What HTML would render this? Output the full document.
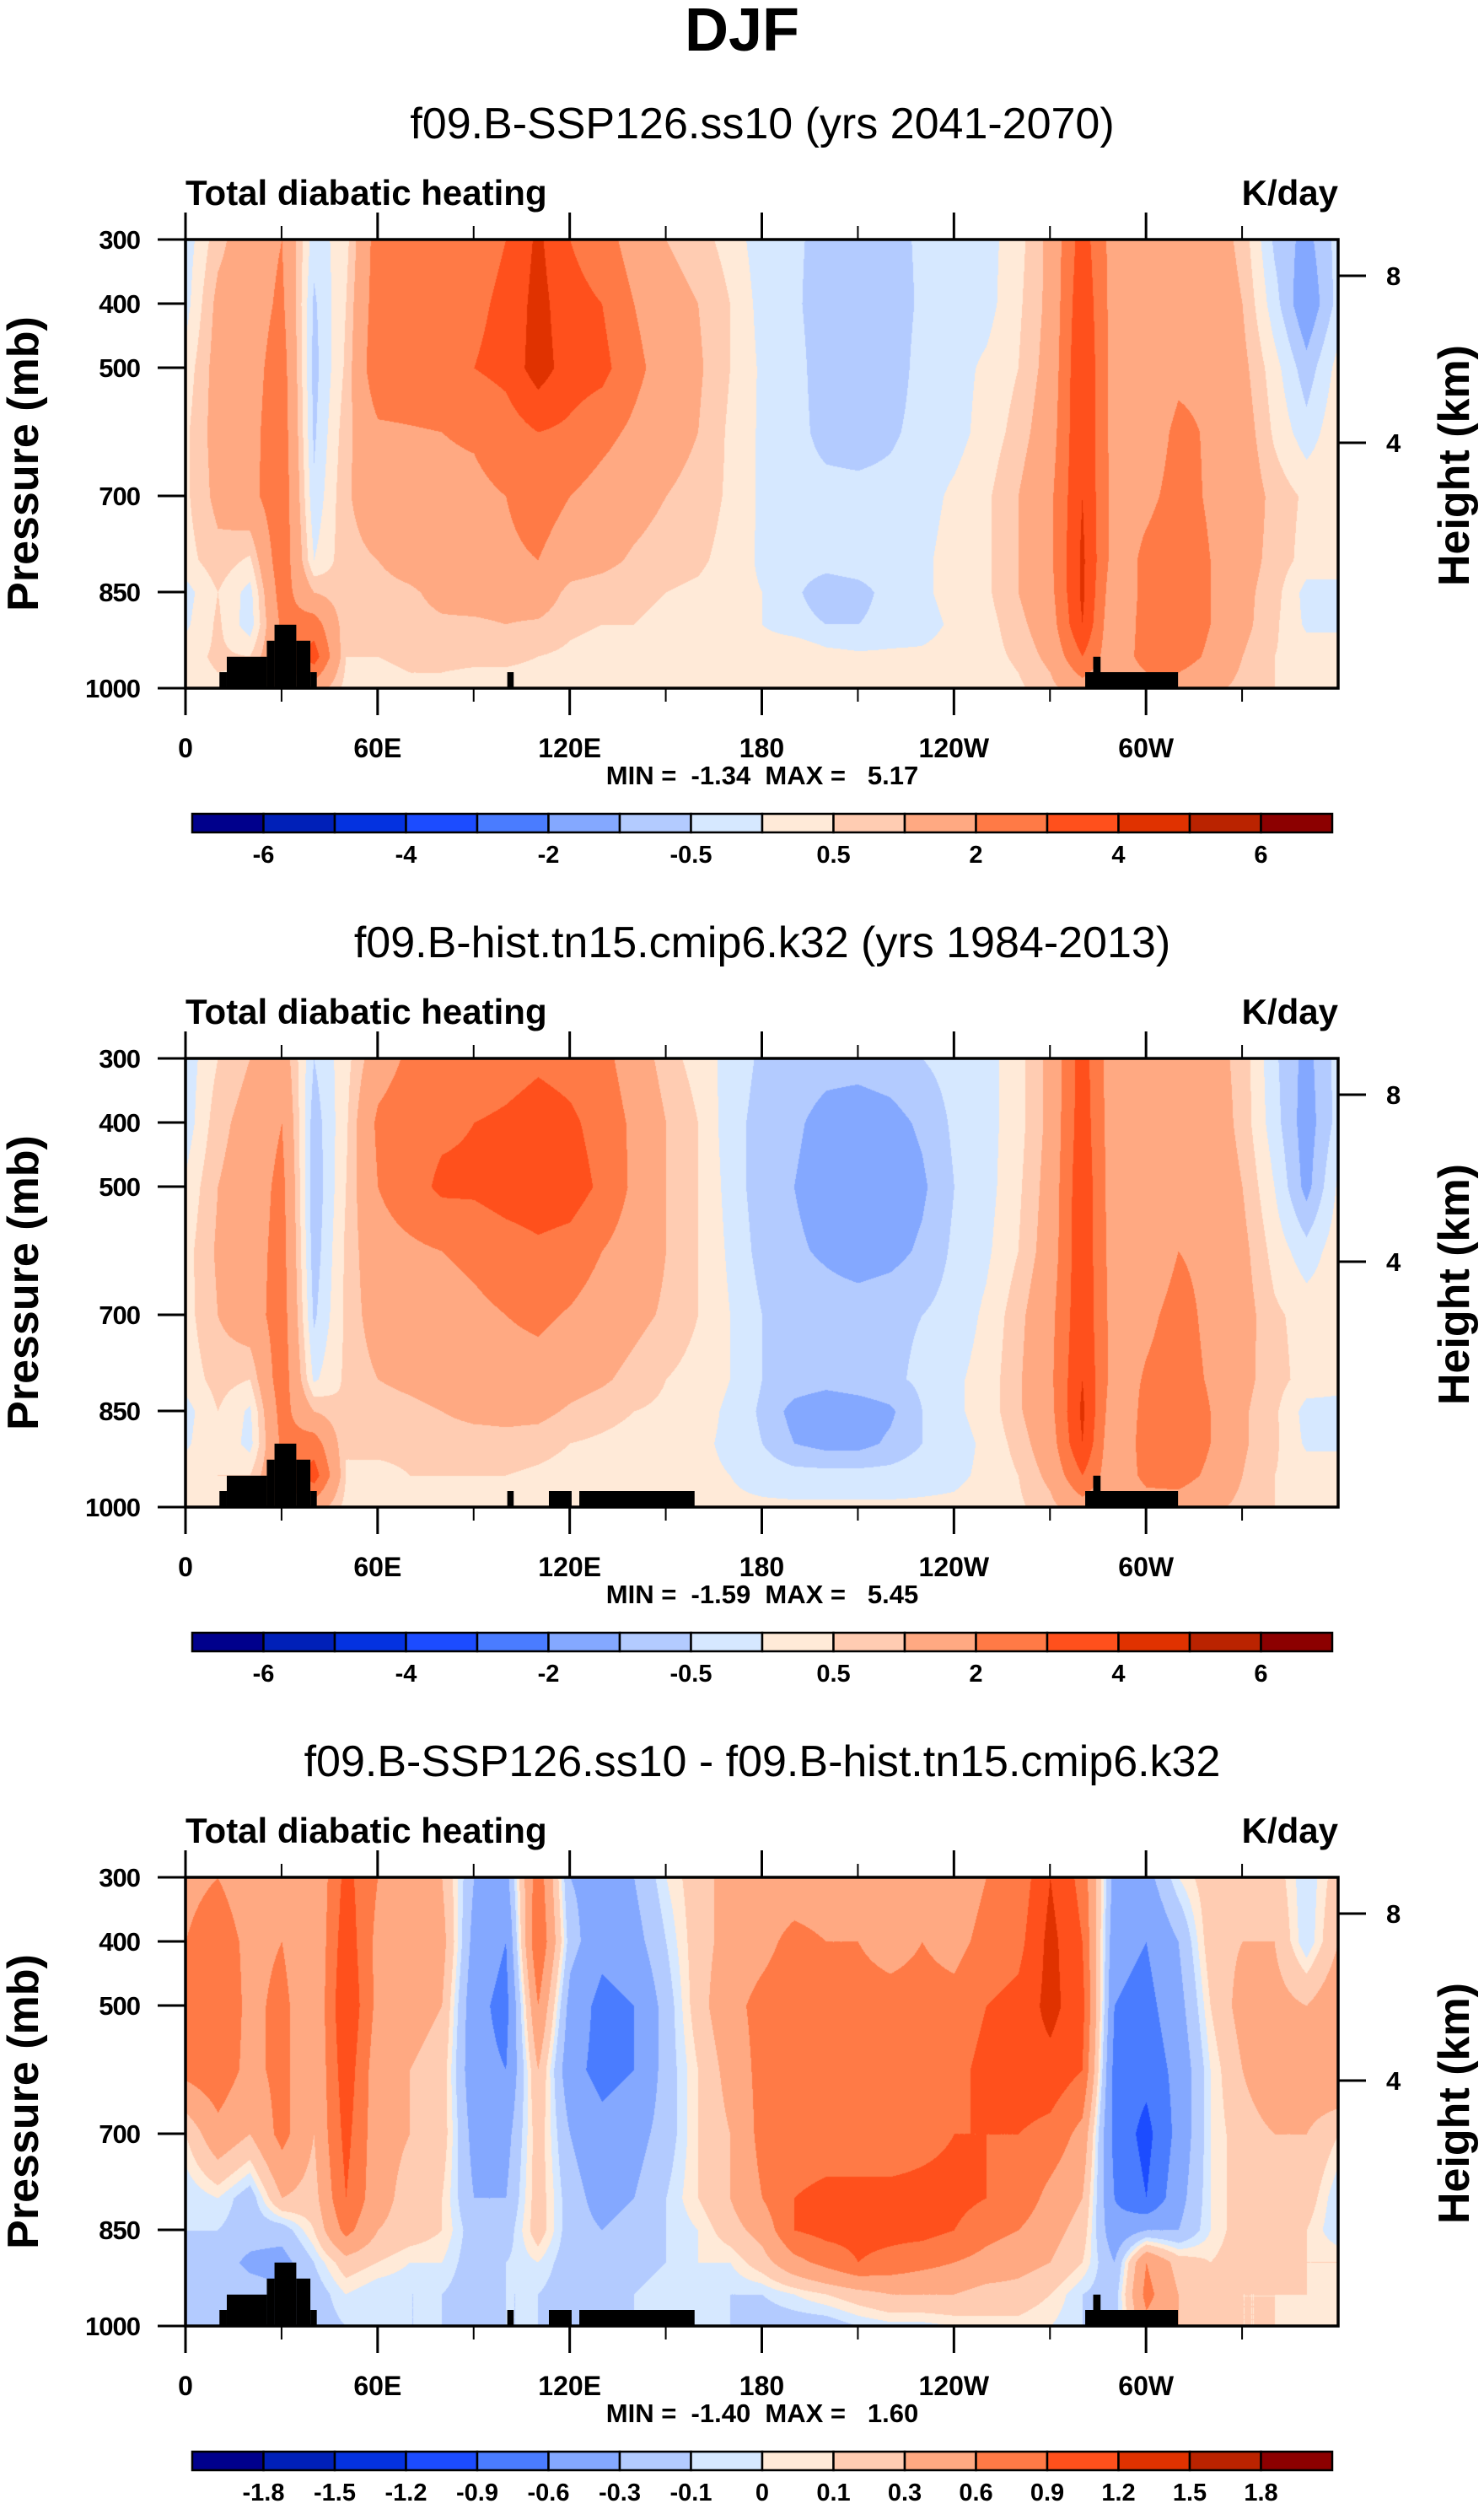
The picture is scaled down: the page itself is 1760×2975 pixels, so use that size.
<!DOCTYPE html>
<html><head><meta charset="utf-8">
<style>
body{margin:0;background:#fff}
#page{position:relative;width:1760px;height:2975px;background:#fff;overflow:hidden;font-family:"Liberation Sans",sans-serif;color:#000}
.t{position:absolute;white-space:nowrap;line-height:1}
.c{transform:translateX(-50%)}
canvas{position:absolute}
svg{position:absolute;left:0;top:0}
</style></head><body>
<div id="page">
<div class="t c" style="left:880px;top:0px;font-size:72px;font-weight:bold">DJF</div>

<div class="t c" style="left:904px;top:121px;font-size:52px">f09.B-SSP126.ss10 (yrs 2041-2070)</div>
<div class="t c" style="left:904px;top:1092px;font-size:52px">f09.B-hist.tn15.cmip6.k32 (yrs 1984-2013)</div>
<div class="t c" style="left:904px;top:2063px;font-size:52px">f09.B-SSP126.ss10 - f09.B-hist.tn15.cmip6.k32</div>

<div class="t" style="left:220px;top:208px;font-size:42px;font-weight:bold">Total diabatic heating</div>
<div class="t" style="left:220px;top:1179px;font-size:42px;font-weight:bold">Total diabatic heating</div>
<div class="t" style="left:220px;top:2150px;font-size:42px;font-weight:bold">Total diabatic heating</div>
<div class="t" style="right:173px;top:208px;font-size:42px;font-weight:bold">K/day</div>
<div class="t" style="right:173px;top:1179px;font-size:42px;font-weight:bold">K/day</div>
<div class="t" style="right:173px;top:2150px;font-size:42px;font-weight:bold">K/day</div>

<div class="t c" style="left:904px;top:904px;font-size:31px;font-weight:bold;white-space:pre">MIN =  -1.34  MAX =   5.17</div>
<div class="t c" style="left:904px;top:1875px;font-size:31px;font-weight:bold;white-space:pre">MIN =  -1.59  MAX =   5.45</div>
<div class="t c" style="left:904px;top:2846px;font-size:31px;font-weight:bold;white-space:pre">MIN =  -1.40  MAX =   1.60</div>

<div class="t" style="left:28px;top:550px;font-size:52px;font-weight:bold;transform:translate(-50%,-50%) rotate(-90deg)">Pressure (mb)</div>
<div class="t" style="left:28px;top:1521px;font-size:52px;font-weight:bold;transform:translate(-50%,-50%) rotate(-90deg)">Pressure (mb)</div>
<div class="t" style="left:28px;top:2492px;font-size:52px;font-weight:bold;transform:translate(-50%,-50%) rotate(-90deg)">Pressure (mb)</div>
<div class="t" style="left:1725px;top:552px;font-size:52px;font-weight:bold;transform:translate(-50%,-50%) rotate(-90deg)">Height (km)</div>
<div class="t" style="left:1725px;top:1523px;font-size:52px;font-weight:bold;transform:translate(-50%,-50%) rotate(-90deg)">Height (km)</div>
<div class="t" style="left:1725px;top:2494px;font-size:52px;font-weight:bold;transform:translate(-50%,-50%) rotate(-90deg)">Height (km)</div>
</div>
<script>
const lonCols=[0,10,20,30,40,50,60,70,80,90,100,110,120,130,140,150,160,170,180,190,200,210,220,230,240,250,260,270,280,290,300,310,320,330,340,350,360];
const pLevels=[300,400,500,600,700,800,850,900,950,1000];
const xTickLons=[0,60,120,180,240,300];
const xTickLabels=["0","60E","120E","180","120W","60W"];
const minorLons=[30,90,150,210,270,330];
const pTicks=[300,400,500,700,850,1000];
const hTickLabels=["8","4"];
const bounds12=[-6,-5,-4,-3,-2,-1,-0.5,0,0.5,1,2,3,4,5,6];
const cbLabels12=["-6","","-4","","-2","","-0.5","","0.5","","2","","4","","6"];
const bounds3=[-1.8,-1.5,-1.2,-0.9,-0.6,-0.3,-0.1,0,0.1,0.3,0.6,0.9,1.2,1.5,1.8];
const cbLabels3=["-1.8","-1.5","-1.2","-0.9","-0.6","-0.3","-0.1","0","0.1","0.3","0.6","0.9","1.2","1.5","1.8"];
const colors=["#00008c","#0020b8","#0432e0","#1c4cff","#4a7cff","#84a8ff","#b3cbff","#d6e8ff","#ffead8","#ffccb2","#ffa982","#ff7a46","#ff501c","#e03200","#ba2300","#8c0000"];
const mask1=[[10.6,12.9,975],[12.9,25.4,951],[25.4,27.8,926],[27.8,34.6,901],[34.6,39,926],[39,41,975],[100.5,102.5,975],[281,310,975],[283.5,285.8,951]];
const mask23=[[10.6,12.9,975],[12.9,25.4,951],[25.4,27.8,926],[27.8,34.6,901],[34.6,39,926],[39,41,975],[100.5,102.5,975],[113.5,120.6,975],[123,159,975],[281,310,975],[283.5,285.8,951]];
const data1=[
[-0.3,0.8,1.5,2.0,-0.3,0.3,2.5,2.5,2.5,2.6,3.0,4.2,3.0,2.5,1.5,1.0,0.7,0.3,-0.3,-0.4,-0.7,-0.7,-0.7,-0.4,-0.3,-0.2,0.3,1.2,3.5,1.5,1.5,1.2,1.5,0.8,-0.6,-1.2,-0.3],
[-0.2,1.2,1.5,2.2,-0.6,0.5,2.6,2.6,2.7,2.8,3.2,4.4,3.3,3.0,2.0,1.3,1.0,0.5,-0.2,-0.4,-0.8,-0.8,-0.8,-0.4,-0.3,-0.2,0.4,1.2,3.8,1.5,1.0,1.5,1.6,1.0,-0.3,-1.5,-0.3],
[0.2,1.3,1.6,2.5,-0.7,0.6,2.8,2.8,2.9,3.0,3.3,4.5,3.5,3.3,2.3,1.5,1.1,0.5,-0.1,-0.3,-0.8,-0.9,-0.8,-0.3,-0.2,0.1,0.5,1.3,4.0,1.5,1.2,1.8,1.8,1.2,0.2,-0.8,0.2],
[0.4,1.3,1.7,2.6,-0.6,0.8,1.8,1.9,2.0,2.1,2.5,3.0,2.8,2.3,1.8,1.3,1.0,0.4,-0.1,-0.3,-0.7,-0.8,-0.6,-0.3,-0.2,0.2,0.7,1.5,4.0,1.5,1.5,2.2,1.9,1.4,0.4,-0.3,0.4],
[0.4,1.2,1.7,2.7,-0.4,0.9,1.5,1.6,1.8,1.8,2.0,2.5,2.0,1.6,1.3,1.0,0.8,0.4,-0.1,-0.3,-0.3,-0.3,-0.3,-0.2,0.1,0.4,1.0,1.8,4.0,1.6,1.8,2.3,1.9,1.5,0.8,0.4,0.4],
[0.3,0.8,0.4,2.7,0.0,0.8,1.0,1.3,1.5,1.8,1.8,2.0,1.4,1.2,0.9,0.7,0.6,0.3,-0.1,-0.3,-0.3,-0.2,-0.2,-0.1,0.2,0.4,1.0,1.8,4.2,1.5,2.2,2.5,2.0,1.3,0.8,0.3,0.3],
[-0.2,0.5,-0.2,2.5,1.0,0.6,0.8,0.9,1.2,1.3,1.3,1.5,0.8,0.7,0.6,0.5,0.4,0.2,0.0,-0.4,-0.8,-0.7,-0.3,-0.1,0.2,0.4,1.0,1.7,4.2,1.2,2.3,2.8,2.0,1.2,0.7,-0.2,-0.2],
[-0.1,0.6,-0.3,2.2,2.5,0.6,0.8,0.8,0.9,0.9,1.0,0.9,0.6,0.5,0.5,0.4,0.3,0.1,0.0,-0.3,-0.5,-0.5,-0.3,-0.2,0.1,0.3,0.8,1.5,4.0,1.0,2.5,2.8,2.0,1.2,0.6,-0.1,-0.1],
[0.3,0.6,0.5,2.0,3.5,0.5,0.5,0.6,0.6,0.6,0.6,0.5,0.4,0.3,0.3,0.3,0.2,0.2,0.3,0.5,0.2,0.1,0.1,0.1,0.2,0.3,0.6,1.2,3.0,1.2,2.5,2.5,1.8,1.0,0.5,0.3,0.3],
[0.3,0.4,0.4,1.5,1.5,0.3,0.3,0.4,0.4,0.3,0.3,0.3,0.3,0.2,0.2,0.2,0.2,0.2,0.2,0.4,0.2,0.1,0.1,0.1,0.2,0.2,0.4,0.8,1.5,1.0,1.5,1.5,1.2,0.8,0.5,0.3,0.3]];
const data2=[
[-0.3,0.5,1.0,1.5,-0.5,0.3,1.5,2.2,2.3,2.2,2.5,2.8,2.6,2.3,1.5,0.7,0.3,-0.2,-0.6,-0.7,-0.8,-0.8,-0.7,-0.5,-0.3,-0.2,0.3,1.2,3.5,1.2,1.5,1.2,1.3,0.8,-0.4,-1.2,-0.3],
[-0.3,0.8,1.3,2.0,-0.8,0.4,2.2,2.6,2.8,3.0,3.2,3.5,3.2,2.6,1.8,1.0,0.5,-0.3,-0.7,-0.9,-1.2,-1.3,-1.2,-0.9,-0.4,-0.2,0.3,1.2,3.6,1.3,1.0,1.5,1.5,0.8,-0.3,-1.3,-0.3],
[0.1,1.0,1.4,2.3,-0.9,0.5,2.0,2.6,3.2,3.2,3.5,3.6,3.5,2.8,1.8,1.0,0.5,-0.2,-0.8,-1.0,-1.3,-1.5,-1.4,-1.1,-0.5,-0.2,0.4,1.3,3.8,1.3,1.2,1.7,1.6,1.0,0.0,-1.2,0.1],
[0.3,1.1,1.5,2.4,-0.8,0.6,1.6,1.8,2.0,2.2,2.5,2.8,2.6,2.0,1.5,1.0,0.5,-0.1,-0.7,-0.9,-1.1,-1.3,-1.2,-0.9,-0.4,-0.1,0.5,1.4,3.8,1.4,1.4,2.0,1.8,1.2,0.3,-0.3,0.3],
[0.3,1.0,1.5,2.5,-0.6,0.6,1.4,1.5,1.6,1.8,2.0,2.2,1.9,1.5,1.2,0.9,0.5,0.0,-0.5,-0.6,-0.7,-0.7,-0.6,-0.5,-0.3,0.1,0.8,1.7,3.8,1.5,1.8,2.3,1.8,1.3,0.6,0.3,0.3],
[0.2,0.7,0.5,2.6,-0.1,0.6,1.0,1.2,1.4,1.6,1.6,1.6,1.3,1.1,0.8,0.5,0.3,0.0,-0.5,-0.7,-0.8,-0.7,-0.6,-0.4,-0.1,0.2,0.9,1.8,4.0,1.5,2.1,2.4,1.9,1.2,0.7,0.3,0.2],
[-0.2,0.5,-0.1,2.4,1.0,0.5,0.7,0.8,1.0,1.2,1.2,1.2,0.9,0.7,0.5,0.4,0.2,-0.1,-0.6,-1.2,-1.4,-1.3,-1.1,-0.5,-0.1,0.2,0.9,1.7,4.2,1.2,2.3,2.7,2.0,1.1,0.6,-0.2,-0.2],
[-0.1,0.5,-0.2,2.2,2.5,0.5,0.6,0.6,0.7,0.7,0.8,0.7,0.5,0.4,0.3,0.2,0.1,-0.1,-0.5,-1.0,-1.2,-1.2,-0.9,-0.5,-0.2,0.1,0.7,1.5,4.0,1.0,2.5,2.8,2.0,1.1,0.6,-0.1,-0.1],
[0.3,0.5,0.5,2.0,3.5,0.5,0.4,0.5,0.5,0.5,0.5,0.4,0.3,0.3,0.3,0.2,0.1,0.0,-0.2,-0.3,-0.3,-0.3,-0.3,-0.2,-0.1,0.1,0.5,1.2,3.0,1.2,2.3,2.4,1.8,1.0,0.5,0.3,0.3],
[0.3,0.4,0.4,1.5,1.5,0.3,0.3,0.3,0.3,0.3,0.3,0.3,0.3,0.2,0.2,0.2,0.1,0.1,0.1,0.1,0.1,0.1,0.1,0.1,0.1,0.2,0.4,0.8,1.5,1.0,1.5,1.5,1.2,0.8,0.5,0.3,0.3]];
const data3=[
[0.5,0.6,0.4,0.6,0.3,1.0,0.6,0.4,0.3,-0.3,-0.4,0.8,-0.3,-0.4,-0.3,0.0,0.2,0.4,0.4,0.4,0.4,0.5,0.4,0.5,0.4,0.6,0.7,1.2,0.8,-0.4,-0.4,0.0,0.2,0.2,0.2,-0.1,0.2],
[0.6,0.8,0.5,0.6,0.3,1.1,0.5,0.4,0.4,-0.4,-0.6,0.9,-0.2,-0.5,-0.4,-0.1,0.2,0.4,0.5,0.7,0.6,0.6,0.5,0.6,0.5,0.7,0.8,1.3,0.9,-0.5,-0.6,-0.3,0.2,0.3,0.3,-0.1,0.3],
[0.8,0.9,0.5,0.7,0.3,1.2,0.5,0.4,0.3,-0.5,-0.7,0.6,-0.4,-0.7,-0.6,-0.2,0.2,0.5,0.7,0.8,0.8,0.7,0.7,0.7,0.7,0.9,1.0,1.3,1.0,-0.6,-0.7,-0.4,0.1,0.4,0.4,0.3,0.5],
[0.7,0.8,0.5,0.7,0.3,1.1,0.4,0.3,0.2,-0.5,-0.6,0.3,-0.5,-0.7,-0.6,-0.2,0.1,0.4,0.7,0.8,0.7,0.7,0.6,0.7,0.8,1.0,1.1,1.1,0.9,-0.7,-0.8,-0.5,0.0,0.3,0.5,0.5,0.6],
[0.1,0.5,0.3,0.7,0.3,1.0,0.4,0.3,0.2,-0.4,-0.4,0.2,-0.3,-0.5,-0.4,-0.2,0.1,0.3,0.7,0.7,0.7,0.7,0.7,0.8,0.9,0.9,0.9,0.8,0.5,-0.7,-1.0,-0.5,0.0,0.2,0.3,0.3,0.1],
[-0.1,0.0,-0.2,0.3,0.2,0.9,0.4,0.2,0.1,-0.3,-0.3,0.2,-0.2,-0.4,-0.3,-0.1,0.1,0.3,0.6,0.9,1.0,1.0,1.0,1.0,1.0,0.9,0.8,0.5,0.3,-0.6,-0.9,-0.4,0.0,0.2,0.3,0.2,-0.1],
[-0.1,-0.1,-0.2,-0.2,0.1,0.7,0.3,0.2,0.1,-0.2,-0.2,0.2,-0.2,-0.3,-0.2,-0.1,0.0,0.2,0.4,0.9,1.0,1.0,1.0,1.0,0.9,0.7,0.6,0.4,0.2,-0.5,-0.3,-0.3,0.0,0.2,0.2,0.1,-0.1],
[-0.2,-0.2,-0.35,-0.4,-0.1,0.2,0.1,0.0,0.0,-0.2,-0.1,0.0,-0.2,-0.2,-0.2,-0.1,0.0,0.0,0.2,0.5,0.7,0.9,0.8,0.7,0.6,0.5,0.4,0.3,0.1,-0.3,0.6,0.2,0.1,0.2,0.2,0.1,0.1],
[-0.1,-0.2,-0.2,-0.25,-0.2,0.0,-0.1,-0.1,-0.1,-0.2,-0.1,-0.1,-0.2,-0.2,-0.1,0.0,-0.05,-0.1,-0.1,0.0,0.1,0.2,0.3,0.3,0.3,0.2,0.2,0.1,-0.1,-0.2,0.7,0.3,0.2,0.1,0.1,0.1,0.0],
[-0.1,-0.2,-0.2,-0.2,-0.2,-0.1,-0.1,-0.1,-0.1,-0.2,-0.1,-0.1,-0.2,-0.2,-0.1,0.0,-0.05,-0.1,-0.2,-0.2,-0.2,-0.1,-0.05,-0.05,0.0,0.05,0.05,0.0,-0.1,-0.2,0.5,0.3,0.2,0.1,0.1,0.05,0.0]];

const page=document.getElementById('page');
const NS='http://www.w3.org/2000/svg';
const PL=220,PW=1367,PT=284,PH=532;
function xOf(lon){return PL+lon/360*PW;}
function yOf(p,off){return off+PT+(p-300)/700*PH;}
function sv(tag,parent,attrs){const e=document.createElementNS(NS,tag);for(const k in attrs)e.setAttribute(k,attrs[k]);parent.appendChild(e);return e;}
function interp(data,lon,p){
  let i=Math.min(Math.floor(lon/10),lonCols.length-2);const fx=(lon-lonCols[i])/10;
  let j=0;while(j<pLevels.length-2&&p>pLevels[j+1])j++;
  const fy=(p-pLevels[j])/(pLevels[j+1]-pLevels[j]);
  const a=data[j][i],b=data[j][i+1],c=data[j+1][i],d=data[j+1][i+1];
  return (a*(1-fx)+b*fx)*(1-fy)+(c*(1-fx)+d*fx)*fy;
}
function colorIdx(v,bounds){let k=0;while(k<bounds.length&&v>=bounds[k])k++;return k;}
const rgb=colors.map(h=>[parseInt(h.substr(1,2),16),parseInt(h.substr(3,2),16),parseInt(h.substr(5,2),16)]);

function panel(n,data,bounds,cbLabels,mask,off){
  const cv=document.createElement('canvas');
  cv.width=PW;cv.height=PH;cv.style.left=PL+'px';cv.style.top=(off+PT)+'px';
  
  
  page.appendChild(cv);
  const ctx=cv.getContext('2d');const img=ctx.createImageData(PW,PH);
  for(let y=0;y<PH;y++){const p=300+y/PH*700;
    for(let x=0;x<PW;x++){const lon=x/PW*360;const c=rgb[colorIdx(interp(data,lon,p),bounds)];
      const o=(y*PW+x)*4;img.data[o]=c[0];img.data[o+1]=c[1];img.data[o+2]=c[2];img.data[o+3]=255;}}
  ctx.putImageData(img,0,0);
  const s=sv('svg',page,{width:1760,height:2975});
  
  
  s.style.pointerEvents='none';
  mask.forEach(m=>{const r=sv('rect',s,{x:xOf(m[0]),y:yOf(m[2],off),width:xOf(m[1])-xOf(m[0]),height:yOf(1000,off)-yOf(m[2],off),fill:'#000'});
    
    });
  const fr=sv('rect',s,{x:PL,y:off+PT,width:PW,height:PH,fill:'none',stroke:'#000','stroke-width':3.5});
  
  
  xTickLons.forEach((lon,i)=>{
    sv('line',s,{x1:xOf(lon),x2:xOf(lon),y1:off+PT,y2:off+PT-32,stroke:'#000','stroke-width':3});
    sv('line',s,{x1:xOf(lon),x2:xOf(lon),y1:off+PT+PH,y2:off+PT+PH+32,stroke:'#000','stroke-width':3});
    const t=sv('text',s,{x:xOf(lon),y:off+898,'text-anchor':'middle','font-size':32,'font-weight':'bold','font-family':'Liberation Sans, sans-serif'});
    t.textContent=xTickLabels[i];
    
    });
  minorLons.forEach(lon=>{
    sv('line',s,{x1:xOf(lon),x2:xOf(lon),y1:off+PT,y2:off+PT-16,stroke:'#000','stroke-width':2});
    sv('line',s,{x1:xOf(lon),x2:xOf(lon),y1:off+PT+PH,y2:off+PT+PH+16,stroke:'#000','stroke-width':2});});
  pTicks.forEach(p=>{const y=yOf(p,off);
    sv('line',s,{x1:PL,x2:PL-33,y1:y,y2:y,stroke:'#000','stroke-width':3});
    const t=sv('text',s,{x:166,y:y+11,'text-anchor':'end','font-size':31,'font-weight':'bold','font-family':'Liberation Sans, sans-serif','letter-spacing':-1});
    t.textContent=String(p);
    
    });
  [327,525].forEach((y,i)=>{
    sv('line',s,{x1:PL+PW,x2:PL+PW+33,y1:off+y,y2:off+y,stroke:'#000','stroke-width':3});
    const t=sv('text',s,{x:1644,y:off+y+11,'font-size':31,'font-weight':'bold','font-family':'Liberation Sans, sans-serif'});
    t.textContent=hTickLabels[i];
    
    });
  const cx0=228,cw=(1580-228)/16,cy=off+965,ch=22;
  colors.forEach((c,i)=>{const r=sv('rect',s,{x:cx0+i*cw,y:cy,width:cw,height:ch,fill:c,stroke:'#000','stroke-width':2.5});
    
    });
  cbLabels.forEach((l,i)=>{if(!l)return;const t=sv('text',s,{x:cx0+(i+1)*cw,y:off+1023,'text-anchor':'middle','font-size':29,'font-weight':'bold','font-family':'Liberation Sans, sans-serif'});
    t.textContent=l;
    
    });
}
panel(1,data1,bounds12,cbLabels12,mask1,0);
panel(2,data2,bounds12,cbLabels12,mask23,971);
panel(3,data3,bounds3,cbLabels3,mask23,1942);
</script>
</body></html>
